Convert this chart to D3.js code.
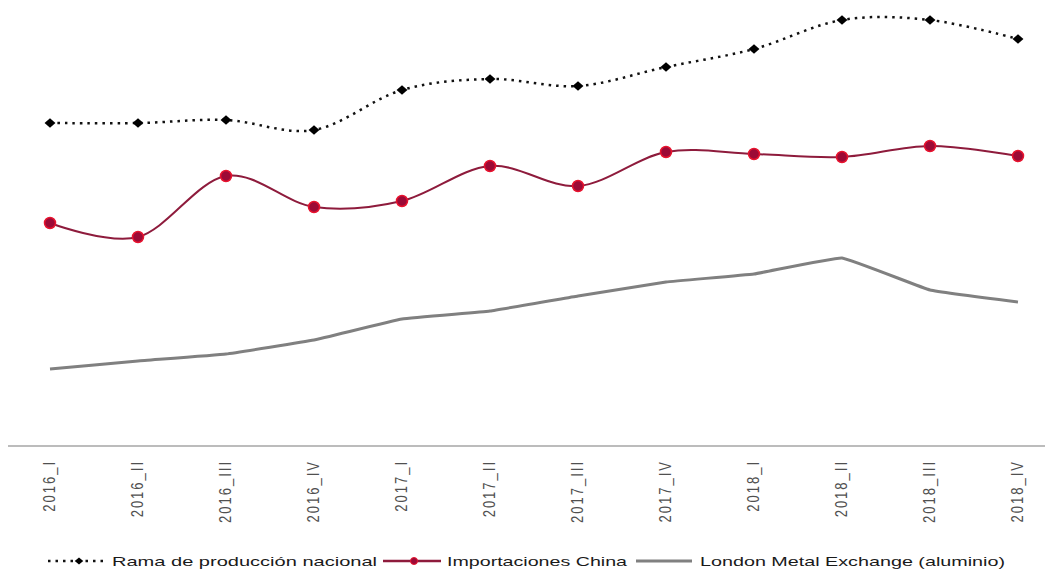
<!DOCTYPE html>
<html><head><meta charset="utf-8">
<script src="https://cdn.jsdelivr.net/npm/d3@7"></script>
<style>body{margin:0;background:#fff}svg{display:block}</style>
</head><body>
<svg id="c" width="1052" height="569"></svg>
<script>
const categories = ["2016_I","2016_II","2016_III","2016_IV","2017_I","2017_II","2017_III","2017_IV","2018_I","2018_II","2018_III","2018_IV"];
const ramaNacional = [323, 323, 326, 316, 356, 367, 360, 379, 397, 426, 426, 407];
const importacionesChina = [223, 209, 270, 239, 245, 280, 260, 294, 292, 289, 300, 290];
const lme = [77, 85, 92, 106, 127, 135, 150, 164, 172, 188, 156, 144];
const seriesNames = ["Rama de producción nacional", "Importaciones China", "London Metal Exchange (aluminio)"];

const svg = d3.select("#c");
const x = d3.scalePoint().domain(categories).range([50, 1018]);
const y = d3.scaleLinear().domain([0, 446]).range([446, 0]);

const line = (curve) => d3.line().x((d,i)=>x(categories[i])).y(d=>y(d)).curve(curve);
const smooth = line(d3.curveCardinal.tension(0));
const soft = line(d3.curveCardinal.tension(0.75));

svg.append("line").attr("x1",8).attr("x2",1045).attr("y1",y(0)).attr("y2",y(0))
  .attr("stroke","#a6a6a6").attr("stroke-width",1.5);

const xl = svg.append("g");
categories.forEach(c=>{
  xl.append("text").attr("transform",`translate(${x(c)+5},460) scale(1.25,1) rotate(-90)`)
    .attr("text-anchor","end").attr("font-family","Liberation Sans, Arial, sans-serif")
    .attr("font-size",13).attr("letter-spacing",2).attr("fill","#505050").text(c);
});

svg.append("path").attr("d",soft(lme)).attr("fill","none").attr("stroke","#808080").attr("stroke-width",3);

svg.append("path").attr("d",smooth(importacionesChina)).attr("fill","none").attr("stroke","#8e1b3c").attr("stroke-width",2);
svg.append("g").selectAll("circle").data(importacionesChina).join("circle")
  .attr("cx",(d,i)=>x(categories[i])).attr("cy",d=>y(d)).attr("r",5.5)
  .attr("fill","#9c0a36").attr("stroke","#e8142f").attr("stroke-width",1.5);

svg.append("path").attr("d",smooth(ramaNacional)).attr("fill","none").attr("stroke","#111")
  .attr("stroke-width",2.5).attr("stroke-dasharray","2.5,5");
const diamond = d3.symbol().type(d3.symbolSquare).size(49);
svg.append("g").selectAll("path").data(ramaNacional).join("path")
  .attr("transform",(d,i)=>`translate(${x(categories[i])},${y(d)}) scale(1.1,0.95) rotate(45)`)
  .attr("d",diamond).attr("fill","#000");

const ly = 561;
const lg = svg.append("g").attr("font-family","Liberation Sans, Arial, sans-serif").attr("font-size",13).attr("fill","#1a1a1a");
lg.append("line").attr("x1",48).attr("x2",104).attr("y1",ly).attr("y2",ly).attr("stroke","#111").attr("stroke-width",2.5).attr("stroke-dasharray","2.5,5");
lg.append("path").attr("transform",`translate(79,${ly}) scale(1.1,0.9) rotate(45)`).attr("d",d3.symbol().type(d3.symbolSquare).size(30)).attr("fill","#000");
lg.append("text").attr("x",112).attr("y",ly+5).attr("textLength",265).attr("lengthAdjust","spacingAndGlyphs").text(seriesNames[0]);

lg.append("line").attr("x1",383).attr("x2",441).attr("y1",ly).attr("y2",ly).attr("stroke","#8e1b3c").attr("stroke-width",2.5);
lg.append("circle").attr("cx",414).attr("cy",ly).attr("r",3.5).attr("fill","#9c0a36").attr("stroke","#e8142f").attr("stroke-width",1);
lg.append("text").attr("x",447).attr("y",ly+5).attr("textLength",180).attr("lengthAdjust","spacingAndGlyphs").text(seriesNames[1]);

lg.append("line").attr("x1",636).attr("x2",692).attr("y1",ly).attr("y2",ly).attr("stroke","#808080").attr("stroke-width",3);
lg.append("text").attr("x",700).attr("y",ly+5).attr("textLength",305).attr("lengthAdjust","spacingAndGlyphs").text(seriesNames[2]);
</script>
</body></html>
